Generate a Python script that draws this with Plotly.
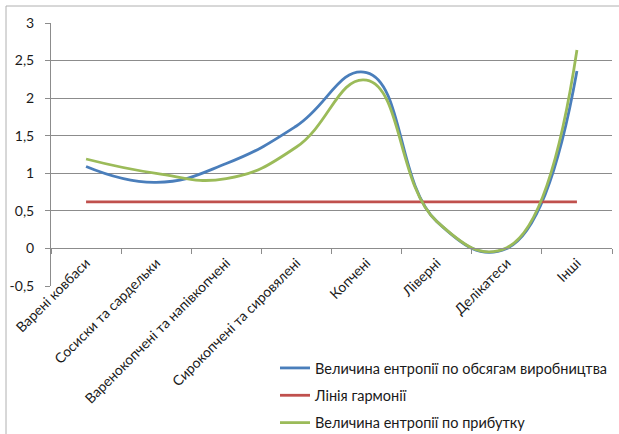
import plotly.graph_objects as go

# Product groups of sausage production
categories = ["Варені ковбаси", "Сосиски та сардельки", "Варенокопчені та напівкопчені",
              "Сирокопчені та сировялені", "Копчені", "Ліверні", "Делікатеси", "Інші"]

# Entropy values
entropy_volume = [1.09, 0.88, 1.13, 1.63, 2.34, 0.36, 0.0, 2.36]
harmony_line = [0.62, 0.62, 0.62, 0.62, 0.62, 0.62, 0.62, 0.62]
entropy_profit = [1.19, 1.0, 0.93, 1.35, 2.24, 0.36, 0.01, 2.64]

series_names = ["Величина ентропії по обсягам виробництва", "Лінія гармонії",
                "Величина ентропії по прибутку"]
series_colors = ["#4A7EBB", "#C0504D", "#9BBB59"]

y_tick_vals = [-0.5, 0, 0.5, 1, 1.5, 2, 2.5, 3]
y_tick_text = ["-0,5", "0", "0,5", "1", "1,5", "2", "2,5", "3"]

FONT = "Lato"
FS = 14
TEXT_COLOR = "#1a1a1a"
GRID = "#8c8c8c"

fig = go.Figure()
for i, (name, vals, col) in enumerate(zip(series_names,
                                          [entropy_volume, harmony_line, entropy_profit],
                                          series_colors)):
    fig.add_trace(go.Scatter(
        x=categories, y=vals, name=name, mode="lines",
        line=dict(color=col, width=2.8, shape="spline" if i != 1 else "linear", smoothing=1.3),
        legendgroup=f"g{i}",
    ))

# chart frame (left and top edges)
fig.add_shape(type="rect", xref="paper", yref="paper",
              x0=(6 - 51) / 561, x1=1.3, y0=-1.0, y1=(286 - 6) / 263,
              line=dict(color="#b0b0b0", width=1), layer="below")

fig.update_layout(
    width=619, height=434,
    margin=dict(l=51, r=7, t=23, b=148, autoexpand=False),
    paper_bgcolor="white", plot_bgcolor="white",
    font=dict(family=FONT, size=FS, color=TEXT_COLOR),
    showlegend=True,
    legend=dict(xref="container", yref="container",
                x=275 / 619, y=(434 - 352) / 434, xanchor="left", yanchor="top",
                bgcolor="rgba(0,0,0,0)", borderwidth=0, itemwidth=30,
                tracegroupgap=5.5, traceorder="grouped",
                font=dict(family=FONT, size=14.5, color=TEXT_COLOR)),
)

fig.update_xaxes(
    type="category", anchor="free", position=0.5 / 3.5, automargin=False,
    showline=True, linecolor=GRID, linewidth=1,
    ticks="outside", ticklen=5, tickcolor=GRID, tickson="boundaries",
    tickangle=-45, showgrid=False, zeroline=False,
    range=[-0.5, len(categories) - 0.5],
    tickfont=dict(family=FONT, size=FS, color=TEXT_COLOR),
)
fig.update_yaxes(
    range=[-0.5, 3], tickvals=y_tick_vals, ticktext=y_tick_text, automargin=False,
    showline=True, linecolor=GRID, linewidth=1,
    ticks="outside", ticklen=5, tickcolor=GRID,
    showgrid=True, gridcolor=GRID, gridwidth=1, zeroline=False,
    ticklabelstandoff=8,
    tickfont=dict(family=FONT, size=FS, color=TEXT_COLOR),
)

fig.write_html("out.html")
